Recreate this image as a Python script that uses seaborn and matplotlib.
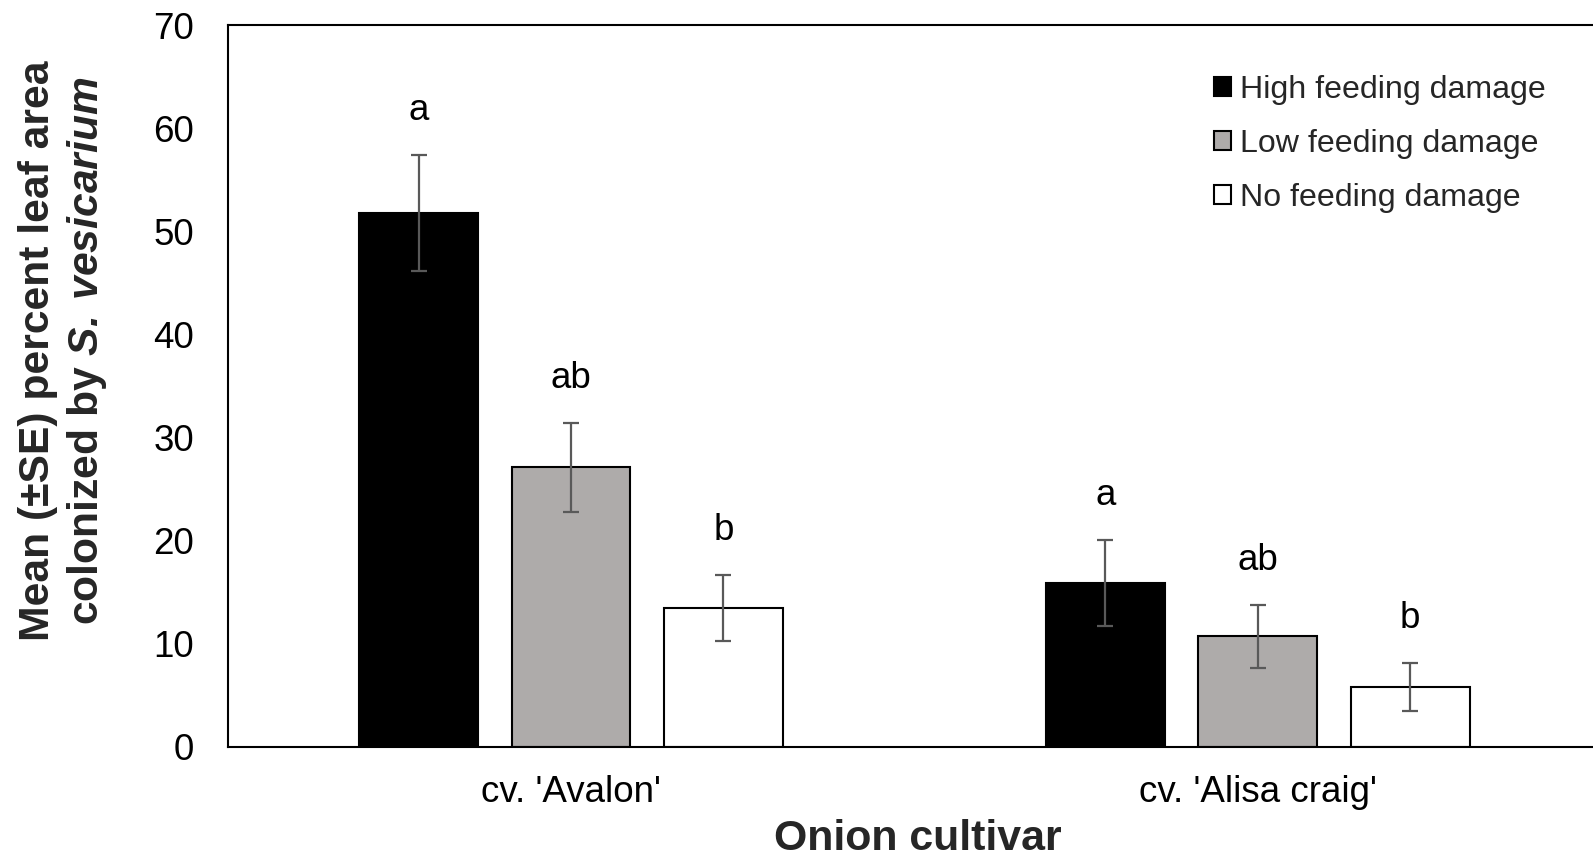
import numpy as np
import pandas as pd
import matplotlib
matplotlib.use("Agg")
import matplotlib.pyplot as plt
import seaborn as sns
from matplotlib.patches import Patch

# Data
cultivars = ["cv. 'Avalon'", "cv. 'Alisa craig'"]
treatments = ["High feeding damage", "Low feeding damage", "No feeding damage"]
means_avalon = [51.8, 27.1, 13.5]
se_avalon = [5.6, 4.3, 3.2]
means_alisa = [15.9, 10.7, 5.8]
se_alisa = [4.2, 3.1, 2.3]
letters_avalon = ["a", "ab", "b"]
letters_alisa = ["a", "ab", "b"]
yticks = [0, 10, 20, 30, 40, 50, 60, 70]

bar_colors = ["#000000", "#AEABAA", "#FFFFFF"]

df = pd.DataFrame({
    "cultivar": [cultivars[0]] * 3 + [cultivars[1]] * 3,
    "treatment": treatments * 2,
    "mean": means_avalon + means_alisa,
    "se": se_avalon + se_alisa,
    "letter": letters_avalon + letters_alisa,
})

sns.set_theme(style="white")
plt.rcParams["font.family"] = ["Liberation Sans", "DejaVu Sans"]
plt.rcParams["mathtext.fontset"] = "custom"
plt.rcParams["mathtext.bfit"] = "Liberation Sans:italic:bold"
plt.rcParams["mathtext.bf"] = "Liberation Sans:bold"
plt.rcParams["mathtext.rm"] = "Liberation Sans"

fig = plt.figure(figsize=(15.93, 8.59), dpi=100)
ax = fig.add_axes([0.1429, 0.1307, 0.8621, 0.8397])

sns.barplot(
    data=df, x="cultivar", y="mean", hue="treatment",
    order=cultivars, hue_order=treatments,
    palette=bar_colors, errorbar=None, width=0.666, gap=0.22,
    edgecolor="black", linewidth=1.5, saturation=1, legend=False, ax=ax,
)

# Error bars and significance letters on each bar
for container, tr in zip(ax.containers, treatments):
    sub = df[df["treatment"] == tr].set_index("cultivar").loc[cultivars]
    for patch, (_, row) in zip(container.patches, sub.iterrows()):
        xc = patch.get_x() + patch.get_width() / 2
        ax.errorbar(xc, row["mean"], yerr=row["se"], fmt="none",
                    ecolor="#595959", elinewidth=1.6, capsize=5.5,
                    capthick=1.6, zorder=5)
        ax.text(xc, row["mean"] + row["se"] + 4.3, row["letter"],
                ha="center", va="center", fontsize=26.4, color="black")

ax.set_xlim(-0.5, 1.5)
ax.set_ylim(0, 70)
ax.set_yticks(yticks)
ax.tick_params(axis="both", length=0, labelsize=26.5, colors="black")
ax.tick_params(axis="y", pad=24)
ax.tick_params(axis="x", pad=20)
ax.set_xlabel("")
ax.set_ylabel("")

for side in ["left", "bottom", "top"]:
    ax.spines[side].set_visible(True)
    ax.spines[side].set_color("black")
    ax.spines[side].set_linewidth(1.5)
ax.spines["right"].set_visible(False)

fig.text(0.576, 0.023, "Onion cultivar", ha="center", va="center",
         fontsize=30.9, fontweight="bold")
fig.text(0.040, 0.592,
         "Mean (±SE) percent leaf area\ncolonized by $\\mathbfit{S.\\,vesicarium}$",
         rotation=90, ha="center", va="center", fontsize=30.7,
         fontweight="bold", multialignment="center", linespacing=1.2)

handles = [Patch(facecolor=c, edgecolor="black", linewidth=1.5) for c in bar_colors]
ax.legend(handles, treatments, loc="upper left",
          bbox_to_anchor=(0.762, 0.913), bbox_transform=fig.transFigure,
          frameon=False, fontsize=23.1, handlelength=0.53, handleheight=0.53,
          handletextpad=0.3, labelspacing=0.75, borderpad=0, borderaxespad=0)

fig.savefig("out.png", dpi=100, facecolor="white")
